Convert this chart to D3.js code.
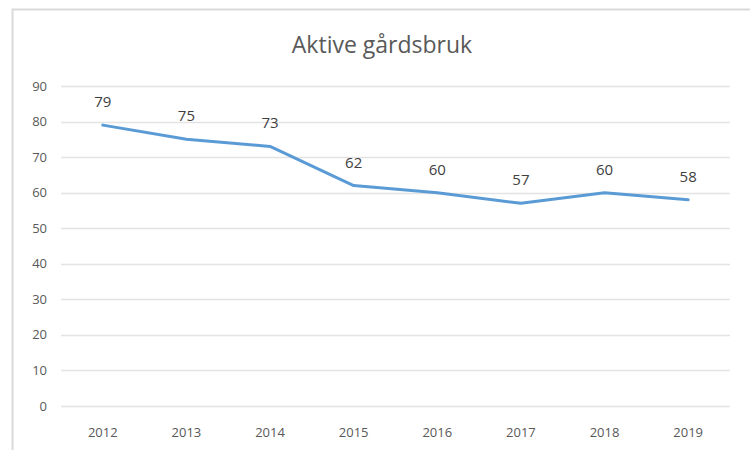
<!DOCTYPE html>
<html>
<head>
<meta charset="utf-8">
<script src="https://cdn.jsdelivr.net/npm/d3@7"></script>
<style>
  body { margin: 0; background: #fff; }
  text { font-family: "Open Sans", "Noto Sans", sans-serif; }
</style>
</head>
<body>
<div class="chart"></div>
<script>
let width = 750, height = 450;

// data
let years = ["2012", "2013", "2014", "2015", "2016", "2017", "2018", "2019"];
let farms = [79, 75, 73, 62, 60, 57, 60, 58];
let yTicks = [0, 10, 20, 30, 40, 50, 60, 70, 80, 90];

let svg = d3.select(".chart").append("svg")
    .attr("width", width)
    .attr("height", height);

// chart frame (only top and left edges show)
svg.append("path")
    .attr("d", "M12.5,450 L12.5,9.5 L750,9.5")
    .attr("fill", "none")
    .attr("stroke", "#d9d9d9")
    .attr("stroke-width", 2);

let x = d3.scalePoint()
    .domain(years)
    .range([61, 730])
    .padding(0.5);

let y = d3.scaleLinear()
    .domain([0, 90])
    .range([406, 86]);

// gridlines
svg.append("g")
    .selectAll("line")
    .data(yTicks)
    .join("line")
    .attr("x1", 61)
    .attr("x2", 730)
    .attr("y1", d => Math.round(y(d)) + 0.5)
    .attr("y2", d => Math.round(y(d)) + 0.5)
    .attr("stroke", "#e3e3e3")
    .attr("stroke-width", 1.5);

// y labels
svg.append("g")
    .selectAll("text")
    .data(yTicks)
    .join("text")
    .attr("x", 47)
    .attr("y", d => y(d))
    .attr("dy", "0.35em")
    .attr("text-anchor", "end")
    .attr("fill", "#595959")
    .style("font-size", "13px")
    .text(d => d);

// x labels
svg.append("g")
    .selectAll("text")
    .data(years)
    .join("text")
    .attr("x", d => x(d))
    .attr("y", 437)
    .attr("text-anchor", "middle")
    .attr("fill", "#595959")
    .style("font-size", "13px")
    .text(d => d);

// line
let line = d3.line()
    .x((d, i) => x(years[i]))
    .y(d => y(d));

svg.append("path")
    .datum(farms)
    .attr("d", line)
    .attr("fill", "none")
    .attr("stroke", "#5b9bd5")
    .attr("stroke-width", 3)
    .attr("stroke-linejoin", "round")
    .attr("stroke-linecap", "round");

// value labels
svg.append("g")
    .selectAll("text")
    .data(farms)
    .join("text")
    .attr("x", (d, i) => x(years[i]))
    .attr("y", d => y(d) - 18)
    .attr("text-anchor", "middle")
    .attr("fill", "#404040")
    .style("font-size", "15px")
    .text(d => d);

// title
svg.append("text")
    .attr("x", 382)
    .attr("y", 53)
    .attr("text-anchor", "middle")
    .attr("fill", "#595959")
    .style("font-size", "23px")
    .text("Aktive gårdsbruk");
</script>
</body>
</html>
